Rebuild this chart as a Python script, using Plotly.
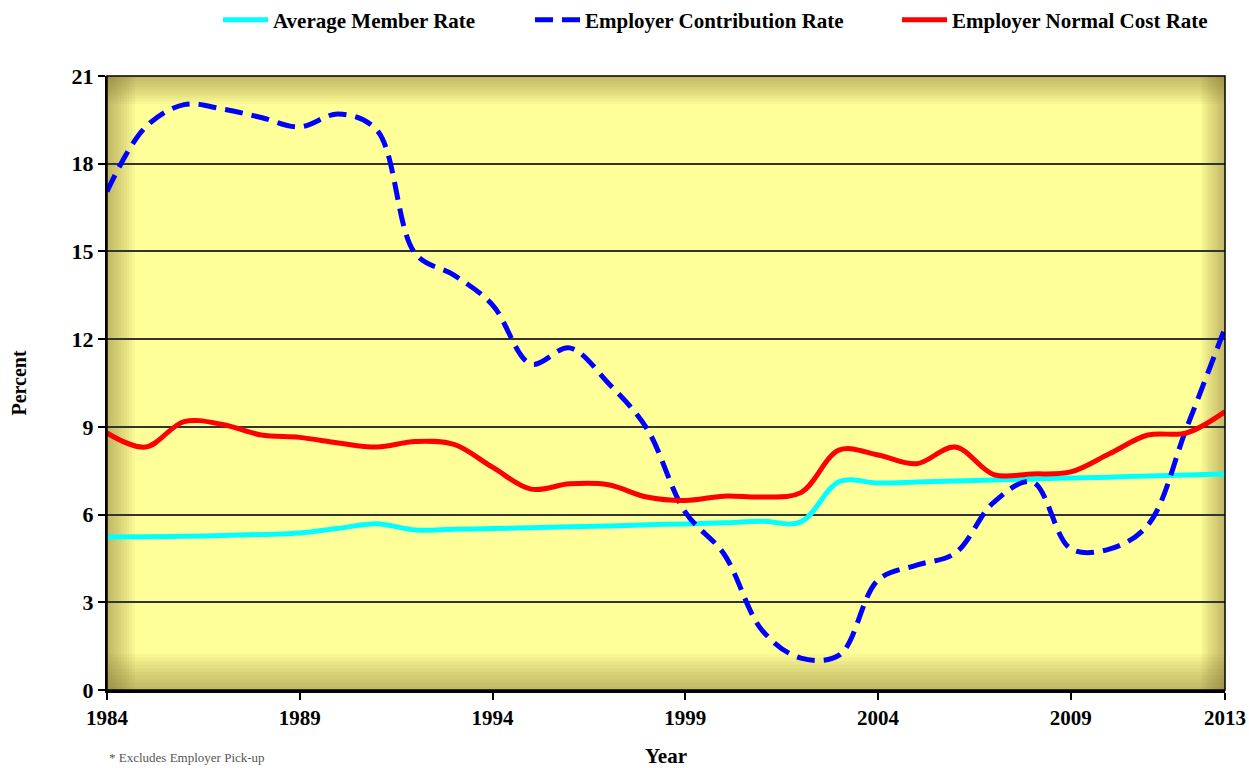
import plotly.graph_objects as go

years = list(range(1984, 2014))

member_rate = [5.23, 5.24, 5.26, 5.28, 5.32, 5.37, 5.53, 5.69, 5.47, 5.50,
               5.52, 5.55, 5.58, 5.61, 5.65, 5.68, 5.72, 5.77, 5.75, 7.13,
               7.08, 7.11, 7.15, 7.18, 7.22, 7.25, 7.28, 7.32, 7.35, 7.39]

employer_contrib = [17.05, 19.25, 20.02, 19.87, 19.58, 19.26, 19.70, 19.15, 14.92, 14.19,
                    13.17, 11.15, 11.70, 10.50, 8.95, 6.08, 4.66, 2.03, 1.09, 1.20,
                    3.76, 4.27, 4.68, 6.42, 7.12, 4.83, 4.82, 5.64, 8.95, 12.38]

employer_normal = [8.79, 8.31, 9.18, 9.08, 8.72, 8.64, 8.45, 8.31, 8.50, 8.40,
                   7.62, 6.87, 7.05, 7.02, 6.60, 6.48, 6.63, 6.60, 6.75, 8.21,
                   8.04, 7.74, 8.31, 7.37, 7.39, 7.46, 8.08, 8.72, 8.79, 9.52]

x_ticks = [1984, 1989, 1994, 1999, 2004, 2009, 2013]
y_ticks = [0, 3, 6, 9, 12, 15, 18, 21]

font_family = "Liberation Serif"

FIG_W, FIG_H = 1249, 768

fig = go.Figure()
fig.add_trace(go.Scatter(x=years, y=member_rate, name="Average Member Rate",
                         mode="lines", legend="legend",
                         line=dict(color="#00FFFF", width=5, shape="spline")))
fig.add_trace(go.Scatter(x=years, y=employer_contrib, name="Employer Contribution Rate",
                         mode="lines", legend="legend2",
                         line=dict(color="#0000FF", width=5, shape="spline", dash="18px,9px")))
fig.add_trace(go.Scatter(x=years, y=employer_normal, name="Employer Normal Cost Rate",
                         mode="lines", legend="legend3",
                         line=dict(color="#FF0000", width=5, shape="spline")))

# bevel shading on plot area edges
W, H = 1118.0, 614.0
shapes = []
dark = "rgb(110,100,40)"
n = 10
for k in range(1, n + 1):
    a = 0.05
    lw = 2.8 * k / W
    rw = 2.4 * k / W
    th = 2.8 * k / H
    bh = 3.6 * k / H
    for (x0, x1, y0, y1) in [(0, lw, 0, 1), (1 - rw, 1, 0, 1), (0, 1, 1 - th, 1), (0, 1, 0, bh)]:
        shapes.append(dict(type="rect", xref="x domain", yref="y domain",
                           x0=x0, x1=x1, y0=y0, y1=y1,
                           fillcolor=dark, opacity=a, line=dict(width=0), layer="below"))
shapes.append(dict(type="rect", xref="x domain", yref="y domain", x0=0, x1=1, y0=0, y1=1,
                   line=dict(color="black", width=1.5), fillcolor="rgba(0,0,0,0)", layer="above"))

legend_font = dict(family=font_family, size=21, color="black", weight="bold")
leg_common = dict(orientation="h", xref="container", yref="container", y=1 - 20 / FIG_H,
                  xanchor="left", yanchor="middle", font=legend_font,
                  bgcolor="rgba(0,0,0,0)", itemwidth=45)

fig.update_layout(
    width=FIG_W, height=FIG_H,
    paper_bgcolor="white",
    plot_bgcolor="#FFFF99",
    margin=dict(l=107, r=24, t=76, b=78, autoexpand=False),
    font=dict(family=font_family, size=20, color="black"),
    shapes=shapes,
    showlegend=True,
    legend=dict(x=218 / FIG_W, **leg_common),
    legend2=dict(x=530 / FIG_W, **leg_common),
    legend3=dict(x=897 / FIG_W, **leg_common),
    annotations=[dict(text="* Excludes Employer Pick-up", xref="paper", yref="paper",
                      x=0.0, y=-77 / 614, xanchor="left", yanchor="bottom",
                      showarrow=False,
                      font=dict(family=font_family, size=13, color="#555555"))],
)

fig.update_xaxes(range=[1984, 2013], tickmode="array", tickvals=x_ticks,
                 ticktext=[str(v) for v in x_ticks],
                 ticks="outside", ticklen=7, tickwidth=1.5, tickcolor="black",
                 showline=True, linecolor="black", linewidth=2.5,
                 showgrid=False, zeroline=False,
                 tickfont=dict(family=font_family, size=21, color="black", weight="bold"),
                 title=dict(text="<b>Year</b>", standoff=29,
                            font=dict(family=font_family, size=21, color="black")))

fig.update_yaxes(range=[0, 21], tickmode="array", tickvals=y_ticks,
                 ticks="outside", ticklen=7, tickwidth=1.5, tickcolor="black",
                 showline=True, linecolor="black", linewidth=2,
                 showgrid=True, gridcolor="#333333", gridwidth=1.5, zeroline=False,
                 tickfont=dict(family=font_family, size=22, color="black", weight="bold"),
                 title=dict(text="<b>Percent</b>", standoff=40,
                            font=dict(family=font_family, size=20, color="black")))

fig.write_html("out.html",
               config={"displayModeBar": False},
               post_script="document.body.style.margin='0';document.body.style.overflow='hidden';")
